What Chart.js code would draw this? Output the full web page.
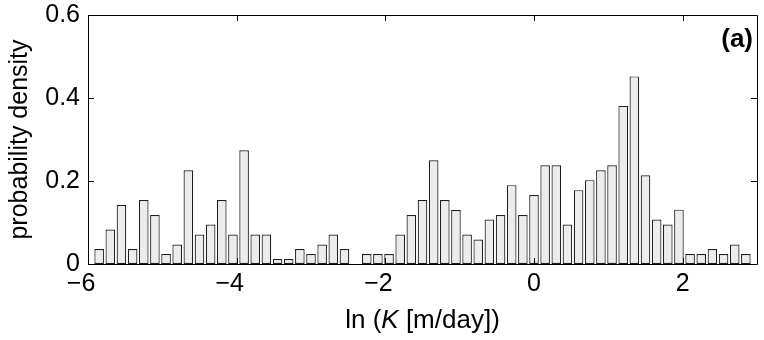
<!DOCTYPE html>
<html>
<head>
<meta charset="utf-8">
<script src="https://cdn.jsdelivr.net/npm/chart.js@4.4.0/dist/chart.umd.min.js"></script>
<style>
  html, body { margin: 0; padding: 0; background: #fff; }
  #wrap { width: 764px; height: 340px; }
</style>
</head>
<body>
<div id="wrap"><canvas id="chartCanvas" width="764" height="340"></canvas></div>
<script>
(function() {
  'use strict';

  // bin centres of ln(K), bin width 0.15
  var binCenters = [
    -5.85, -5.70, -5.55, -5.40, -5.25, -5.10, -4.95, -4.80, -4.65, -4.50,
    -4.35, -4.20, -4.05, -3.90, -3.75, -3.60, -3.45, -3.30, -3.15, -3.00,
    -2.85, -2.70, -2.55, -2.40, -2.25, -2.10, -1.95, -1.80, -1.65, -1.50,
    -1.35, -1.20, -1.05, -0.90, -0.75, -0.60, -0.45, -0.30, -0.15, 0.00,
    0.15, 0.30, 0.45, 0.60, 0.75, 0.90, 1.05, 1.20, 1.35, 1.50,
    1.65, 1.80, 1.95, 2.10, 2.25, 2.40, 2.55, 2.70, 2.85
  ];

  var density = [
    0.036, 0.083, 0.142, 0.036, 0.154, 0.118, 0.024, 0.047, 0.226, 0.071,
    0.095, 0.154, 0.071, 0.274, 0.071, 0.071, 0.012, 0.012, 0.036, 0.024,
    0.047, 0.071, 0.036, 0, 0.024, 0.024, 0.024, 0.071, 0.118, 0.154,
    0.250, 0.154, 0.130, 0.071, 0.059, 0.107, 0.118, 0.190, 0.118, 0.166,
    0.238, 0.238, 0.095, 0.178, 0.202, 0.226, 0.238, 0.381, 0.452, 0.214,
    0.107, 0.095, 0.131, 0.024, 0.024, 0.036, 0.024, 0.047, 0.024
  ];

  var xTicks = [-6, -4, -2, 0, 2];
  var yTicks = [0, 0.2, 0.4, 0.6];

  var FONT = '"Liberation Sans", Arial, Helvetica, sans-serif';
  var FS = 25;

  function minus(v) {
    // matlab style: digit sits on the tick, minus hangs to the left
    return v < 0 ? '\u2212' + Math.abs(v) + '\u2007' : String(v);
  }

  var framePlugin = {
    id: 'frame',
    afterDraw: function(chart) {
      var ctx = chart.ctx;
      var a = chart.chartArea;
      var xs = chart.scales.x;
      var ys = chart.scales.y;
      var tl = 6;
      ctx.save();
      ctx.strokeStyle = '#000';
      ctx.lineWidth = 1;
      ctx.beginPath();
      ctx.rect(Math.round(a.left) + 0.5, Math.round(a.top) + 0.5,
        Math.round(a.right - a.left), Math.round(a.bottom - a.top));
      xTicks.forEach(function(v) {
        var px = Math.round(xs.getPixelForValue(v)) + 0.5;
        ctx.moveTo(px, a.bottom);
        ctx.lineTo(px, a.bottom - tl);
        ctx.moveTo(px, a.top);
        ctx.lineTo(px, a.top + tl);
      });
      yTicks.forEach(function(v) {
        var py = Math.round(ys.getPixelForValue(v)) + 0.5;
        ctx.moveTo(a.left, py);
        ctx.lineTo(a.left + tl, py);
        ctx.moveTo(a.right, py);
        ctx.lineTo(a.right - tl, py);
      });
      ctx.stroke();

      // panel tag
      ctx.fillStyle = '#000';
      ctx.font = 'bold 26px ' + FONT;
      ctx.textAlign = 'right';
      ctx.textBaseline = 'middle';
      ctx.fillText('(a)', a.right - 4, a.top + 25);

      // x axis title with italic K
      var TF = 26;
      var parts = [
        { t: 'ln (', f: TF + 'px ' + FONT },
        { t: 'K', f: 'italic ' + TF + 'px ' + FONT },
        { t: ' [m/day])', f: TF + 'px ' + FONT }
      ];
      var total = 0;
      parts.forEach(function(p) { ctx.font = p.f; p.w = ctx.measureText(p.t).width; total += p.w; });
      var x = (a.left + a.right) / 2 - total / 2;
      ctx.textAlign = 'left';
      parts.forEach(function(p) {
        ctx.font = p.f;
        ctx.fillText(p.t, x, 321);
        x += p.w;
      });
      ctx.restore();
    }
  };

  function init() {
    var canvas = document.getElementById('chartCanvas');
    var points = binCenters.map(function(c, i) { return { x: c, y: density[i] }; });

    new Chart(canvas.getContext('2d'), {
      type: 'bar',
      data: {
        datasets: [{
          data: points,
          backgroundColor: '#ececec',
          borderColor: '#1e1e1e',
          borderWidth: 1.2,
          borderSkipped: false,
          categoryPercentage: 1,
          barPercentage: 0.86
        }]
      },
      options: {
        responsive: false,
        animation: false,
        devicePixelRatio: 1,
        layout: { padding: { top: 15, right: 7, left: 0, bottom: 0 } },
        plugins: { legend: { display: false }, tooltip: { enabled: false } },
        scales: {
          x: {
            type: 'linear',
            min: -6,
            max: 3,
            offset: false,
            bounds: 'data',
            grid: { display: false, drawTicks: false, offset: false },
            border: { display: false },
            afterDataLimits: function(s) { s.min = -6; s.max = 3; },
            afterBuildTicks: function(s) { s.ticks = xTicks.map(function(v) { return { value: v }; }); },
            afterFit: function(s) { s.height = 76; s.paddingLeft = 0; s.paddingRight = 0; },
            ticks: {
              color: '#000',
              padding: 5,
              maxRotation: 0,
              autoSkip: false,
              font: { family: FONT, size: FS },
              callback: function(v) { return minus(v); }
            }
          },
          y: {
            min: 0,
            max: 0.6,
            grid: { display: false, drawTicks: false },
            border: { display: false },
            afterBuildTicks: function(s) { s.ticks = yTicks.map(function(v) { return { value: v }; }); },
            afterFit: function(s) { s.width = 88; s.paddingTop = 0; s.paddingBottom = 0; },
            ticks: {
              color: '#000',
              padding: 8,
              font: { family: FONT, size: FS },
              callback: function(v) { return v === 0 ? '0' : v.toFixed(1); }
            },
            title: {
              display: true,
              text: 'probability density',
              color: '#000',
              padding: { top: 5, bottom: 0 },
              font: { family: FONT, size: FS }
            }
          }
        }
      },
      plugins: [framePlugin]
    });
  }

  document.addEventListener('DOMContentLoaded', init);
})();
</script>
</body>
</html>
